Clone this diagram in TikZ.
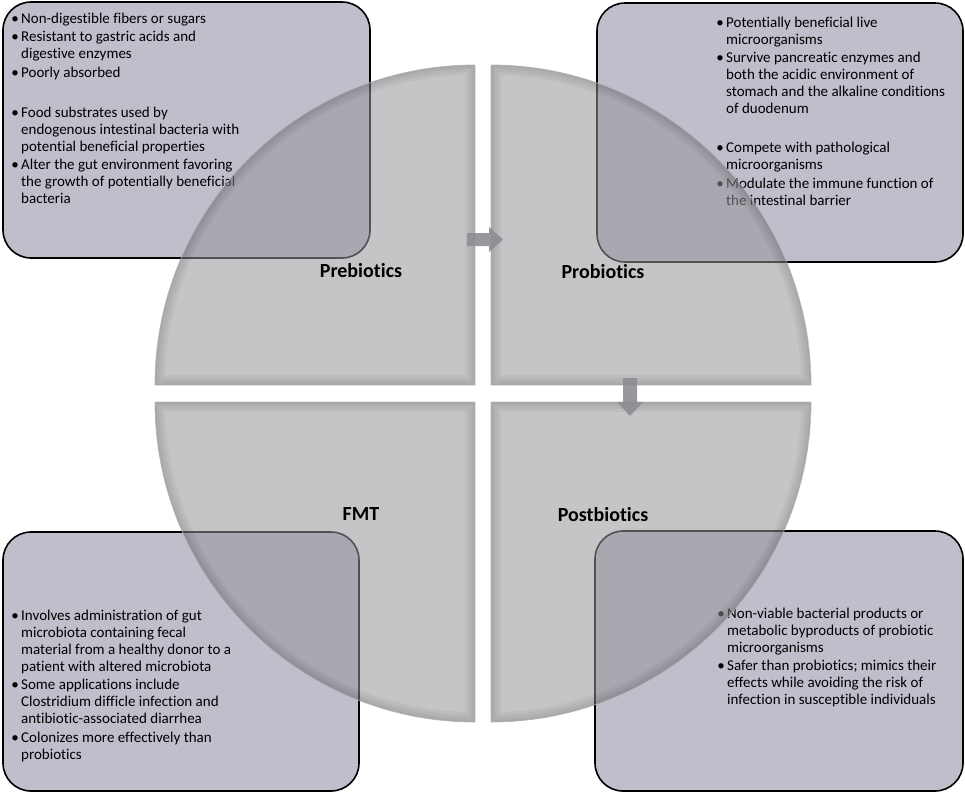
\documentclass[tikz,border=0pt]{standalone}
\usepackage{fontspec}
\setmainfont{Carlito}[Ligatures=NoCommon]
\definecolor{boxfill}{RGB}{191,190,203}
\definecolor{piecefill}{RGB}{150,150,154}
\definecolor{arrowfill}{RGB}{140,140,146}
\newcommand{\myblt}{\makebox[12pt][c]{\textbullet}}
\tikzset{
  infobox/.style={draw=black, line width=1.6pt, fill=boxfill, rounded corners=28pt},
  piece/.style={fill=piecefill, fill opacity=0.55},
  bevelband/.style={draw=black, draw opacity=0.04, line width=#1},
  pieceline/.style={draw=gray!60, draw opacity=0.8, line width=0.8pt},
  listtext/.style={anchor=north west, inner sep=0pt, font=\fontsize{15}{17}\selectfont, align=left},
  pielabel/.style={inner sep=0pt, font=\fontsize{20}{24}\selectfont\bfseries},
  flowarrow/.style={fill=arrowfill, fill opacity=0.9}
}
\def\pieceTL{(475,385) -- (155,385) arc[start angle=180, end angle=90, radius=320pt] -- cycle}
\def\pieceTR{(491,385) -- (491,65) arc[start angle=90, end angle=0, radius=320pt] -- cycle}
\def\pieceBL{(475,402) -- (475,722) arc[start angle=270, end angle=180, radius=320pt] -- cycle}
\def\pieceBR{(491,402) -- (811,402) arc[start angle=0, end angle=-90, radius=320pt] -- cycle}
\begin{document}
\begin{tikzpicture}[x=1pt, y=-1pt]
\useasboundingbox (0,0) rectangle (965,793);

% info boxes
\draw[infobox] (3,2) rectangle (370,258);
\draw[infobox] (597,3) rectangle (963,262);
\draw[infobox] (3,532) rectangle (359,791);
\draw[infobox] (595,531) rectangle (963,791);

% list texts
\node[listtext] (tltext) at (9,11) {\begin{tabular}{@{}l@{}l@{}}
\myblt & Non-digestible fibers or sugars\\[1.5pt]
\myblt & Resistant to gastric acids and\\
 & digestive enzymes\\[1.5pt]
\myblt & Poorly absorbed\\[23pt]
\myblt & Food substrates used by\\
 & endogenous intestinal bacteria with\\
 & potential beneficial properties\\[1.5pt]
\myblt & Alter the gut environment favoring\\
 & the growth of potentially beneficial\\
 & bacteria
\end{tabular}};

\node[listtext] (trtext) at (714,15) {\begin{tabular}{@{}l@{}l@{}}
\myblt & Potentially beneficial live\\
 & microorganisms\\[1.5pt]
\myblt & Survive pancreatic enzymes and\\
 & both the acidic environment of\\
 & stomach and the alkaline conditions\\
 & of duodenum\\[22pt]
\myblt & Compete with pathological\\
 & microorganisms\\[1.5pt]
\myblt & Modulate the immune function of\\
 & the intestinal barrier
\end{tabular}};

\node[listtext] (bltext) at (9,608) {\begin{tabular}{@{}l@{}l@{}}
\myblt & Involves administration of gut\\
 & microbiota containing fecal\\
 & material from a healthy donor to a\\
 & patient with altered microbiota\\[1.5pt]
\myblt & Some applications include\\
 & Clostridium difficle infection and\\
 & antibiotic-associated diarrhea\\[1.5pt]
\myblt & Colonizes more effectively than\\
 & probiotics
\end{tabular}};

\node[listtext] (brtext) at (715,606) {\begin{tabular}{@{}l@{}l@{}}
\myblt & Non-viable bacterial products or\\
 & metabolic byproducts of probiotic\\
 & microorganisms\\[1.5pt]
\myblt & Safer than probiotics; mimics their\\
 & effects while avoiding the risk of\\
 & infection in susceptible individuals
\end{tabular}};

% pie pieces with bevelled edges
\foreach \p in {\pieceTL,\pieceTR,\pieceBL,\pieceBR}{
  \begin{scope}
    \clip \p;
    \fill[piece] \p;
    \draw[bevelband=20pt] \p;
    \draw[bevelband=14pt] \p;
    \draw[bevelband=8pt] \p;
    \draw[bevelband=3pt] \p;
  \end{scope}
  \draw[pieceline] \p;
}

% arrows
\fill[flowarrow] (467,233) -- (489,233) -- (489,227) -- (503,239.5) -- (489,252) -- (489,246) -- (467,246) -- cycle;
\fill[flowarrow] (623,378) -- (637,378) -- (637,402) -- (643,402) -- (630,416) -- (617,402) -- (623,402) -- cycle;

% labels
\node[pielabel] (prebio) at (361,271) {Prebiotics};
\node[pielabel] (probio) at (603,272) {Probiotics};
\node[pielabel] (fmt) at (361,514) {FMT};
\node[pielabel] (postbio) at (603,515) {Postbiotics};
\end{tikzpicture}
\end{document}
